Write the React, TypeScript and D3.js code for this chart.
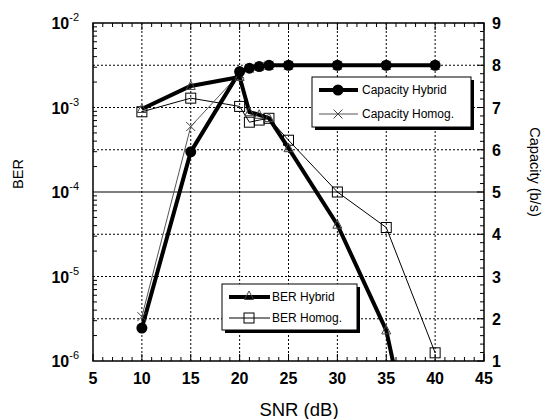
import * as d3 from "d3";

// SNR values (dB) where the curves were sampled
const snr = [10, 15, 20, 21, 22, 23, 25, 30, 35, 40];

// BER curves (left, log axis)
const berHybrid = [9.6e-4, 1.8e-3, 2.3e-3, 8.8e-4, 8.2e-4, 7.5e-4, 3.3e-4, 4.1e-5, 2.3e-6, 5e-9];
const berHomog = [8.9e-4, 1.29e-3, 1.03e-3, 6.7e-4, 7.1e-4, 7.45e-4, 4.1e-4, 1.0e-4, 3.8e-5, 1.25e-6];

// Capacity curves (right, linear axis)
const capHybrid = [1.78, 5.95, 7.85, 7.93, 7.97, 8.0, 8.0, 8.0, 8.0, 8.0];
const capHomog = [2.05, 6.55, 7.8, 7.93, 7.97, 8.0, 8.0, 8.0, 8.0, 8.0];

const xTicks = [5, 10, 15, 20, 25, 30, 35, 40, 45];
const berDecades = [-6, -5, -4, -3, -2];
const capTicks = [1, 2, 3, 4, 5, 6, 7, 8, 9];

const W = 545;
const H = 419;
const m = { left: 93, top: 23, right: 484, bottom: 361 };
const FONT = "'Liberation Sans', Arial, sans-serif";

export default function App() {
  const x = d3.scaleLinear().domain([5, 45]).range([m.left, m.right]);
  const yBer = d3.scaleLog().domain([1e-6, 1e-2]).range([m.bottom, m.top]);
  const yCap = d3.scaleLinear().domain([1, 9]).range([m.bottom, m.top]);

  const berLine = d3
    .line<[number, number]>()
    .x((d) => x(d[0]))
    .y((d) => yBer(d[1]));
  const capLine = d3
    .line<[number, number]>()
    .x((d) => x(d[0]))
    .y((d) => yCap(d[1]));

  const zip = (vals: number[]) => snr.map((s, i) => [s, vals[i]] as [number, number]);

  const inside = (v: number) => v >= 1e-6 && v <= 1e-2;

  // minor ticks
  const xMinor = d3.range(5, 45.01, 1);
  const capMinor = d3.range(1, 9.001, 0.2);
  const berMinor: number[] = [];
  berDecades.slice(0, -1).forEach((e) => {
    for (let k = 2; k <= 9; k++) berMinor.push(k * Math.pow(10, e));
  });

  const circle = (cx: number, cy: number, key: string) => (
    <circle key={key} cx={cx} cy={cy} r={5.5} fill="#000" />
  );
  const cross = (cx: number, cy: number, key: string) => (
    <path key={key} d={`M${cx - 4.5},${cy - 4.5}L${cx + 4.5},${cy + 4.5}M${cx - 4.5},${cy + 4.5}L${cx + 4.5},${cy - 4.5}`} stroke="#444" strokeWidth={1} />
  );
  const square = (cx: number, cy: number, key: string) => (
    <rect key={key} x={cx - 5} y={cy - 5} width={10} height={10} fill="none" stroke="#000" strokeWidth={1} />
  );
  const tri = (cx: number, cy: number, key: string) => (
    <path key={key} d={`M${cx},${cy - 5}L${cx + 4.5},${cy + 3.5}L${cx - 4.5},${cy + 3.5}Z`} fill="none" stroke="#444" strokeWidth={1} />
  );

  const legend1 = { x: 312, y: 77, w: 159, h: 50 };
  const legend2 = { x: 222, y: 284, w: 135, h: 46 };

  return (
    <svg width={W} height={H} style={{ position: "absolute", left: 0, top: 0, background: "#fff" }} fontFamily={FONT}>
      <rect width={W} height={H} fill="#fff" />
      <defs>
        <clipPath id="plot">
          <rect x={m.left} y={m.top} width={m.right - m.left} height={m.bottom - m.top} />
        </clipPath>
      </defs>

      {/* grid */}
      {xTicks.slice(1, -1).map((t) => (
        <line key={"gx" + t} x1={x(t)} x2={x(t)} y1={m.top} y2={m.bottom} stroke="#000" strokeDasharray="2,2" />
      ))}
      {capTicks.slice(1, -1).map((t) => (
        <line key={"gy" + t} x1={m.left} x2={m.right} y1={yCap(t)} y2={yCap(t)} stroke="#000" strokeDasharray={t === 5 ? undefined : "2,2"} strokeWidth={t === 5 ? 1.2 : 1} />
      ))}

      {/* ticks */}
      {xMinor.map((t) => {
        const len = t % 5 === 0 ? 7 : 4;
        return (
          <g key={"xt" + t}>
            <line x1={x(t)} x2={x(t)} y1={m.bottom} y2={m.bottom - len} stroke="#000" />
            <line x1={x(t)} x2={x(t)} y1={m.top} y2={m.top + len} stroke="#000" />
          </g>
        );
      })}
      {berMinor.map((v, i) => (
        <line key={"bt" + i} x1={m.left} x2={m.left + 4} y1={yBer(v)} y2={yBer(v)} stroke="#000" />
      ))}
      {capMinor.map((v, i) => {
        const major = Math.abs(v - Math.round(v)) < 1e-6;
        return <line key={"ct" + i} x1={m.right} x2={m.right - (major ? 7 : 4)} y1={yCap(v)} y2={yCap(v)} stroke="#000" />;
      })}

      {/* data */}
      <g clipPath="url(#plot)">
        <path d={berLine(zip(berHomog)) || ""} fill="none" stroke="#000" strokeWidth={1} />
        <path d={capLine(zip(capHomog)) || ""} fill="none" stroke="#555" strokeWidth={1} />
        <path d={berLine(zip(berHybrid)) || ""} fill="none" stroke="#000" strokeWidth={4} strokeLinejoin="round" />
        <path d={capLine(zip(capHybrid)) || ""} fill="none" stroke="#000" strokeWidth={4} strokeLinejoin="round" />
        {snr.map((s, i) => (inside(berHomog[i]) ? square(x(s), yBer(berHomog[i]), "sq" + i) : null))}
        {snr.map((s, i) => (inside(berHybrid[i]) ? tri(x(s), yBer(berHybrid[i]), "tr" + i) : null))}
        {snr.map((s, i) => cross(x(s), yCap(capHomog[i]), "cx" + i))}
        {snr.map((s, i) => circle(x(s), yCap(capHybrid[i]), "ci" + i))}
      </g>

      {/* frame */}
      <rect x={m.left} y={m.top} width={m.right - m.left} height={m.bottom - m.top} fill="none" stroke="#000" strokeWidth={1.5} />

      {/* tick labels */}
      {xTicks.map((t) => (
        <text key={"xl" + t} x={x(t)} y={m.bottom + 23} textAnchor="middle" fontSize={16} fontWeight="bold">
          {t}
        </text>
      ))}
      {berDecades.map((e) => (
        <text key={"yl" + e} x={79} y={yBer(Math.pow(10, e)) + 6} textAnchor="end" fontSize={16} fontWeight="bold">
          <tspan>10</tspan>
          <tspan dy={-8} fontSize={11} fontWeight="normal">{e}</tspan>
        </text>
      ))}
      {capTicks.map((t) => (
        <text key={"rl" + t} x={492} y={yCap(t) + 6} fontSize={16} fontWeight="bold">
          {t}
        </text>
      ))}

      {/* axis titles */}
      <text x={299} y={416} textAnchor="middle" fontSize={18.5}>SNR (dB)</text>
      <text transform="translate(23,174) rotate(-90)" textAnchor="middle" fontSize={14.5}>BER</text>
      <text transform="translate(530,172) rotate(90)" textAnchor="middle" fontSize={14.5}>Capacity (b/s)</text>

      {/* legend: capacity */}
      <rect x={legend1.x + 3} y={legend1.y + 3} width={legend1.w} height={legend1.h} fill="#000" />
      <rect x={legend1.x} y={legend1.y} width={legend1.w} height={legend1.h} fill="#fff" stroke="#000" />
      <line x1={legend1.x + 7} x2={legend1.x + 46} y1={legend1.y + 13} y2={legend1.y + 13} stroke="#000" strokeWidth={4} />
      {circle(legend1.x + 26, legend1.y + 13, "lc")}
      <text x={legend1.x + 50} y={legend1.y + 17} fontSize={12}>Capacity Hybrid</text>
      <line x1={legend1.x + 7} x2={legend1.x + 46} y1={legend1.y + 37} y2={legend1.y + 37} stroke="#555" strokeWidth={1} />
      {cross(legend1.x + 26, legend1.y + 37, "lx")}
      <text x={legend1.x + 50} y={legend1.y + 41} fontSize={12}>Capacity Homog.</text>

      {/* legend: BER */}
      <rect x={legend2.x + 3} y={legend2.y + 3} width={legend2.w} height={legend2.h} fill="#000" />
      <rect x={legend2.x} y={legend2.y} width={legend2.w} height={legend2.h} fill="#fff" stroke="#000" />
      <line x1={legend2.x + 7} x2={legend2.x + 48} y1={legend2.y + 13} y2={legend2.y + 13} stroke="#000" strokeWidth={4} />
      {tri(legend2.x + 27, legend2.y + 12, "lt")}
      <text x={legend2.x + 50} y={legend2.y + 17} fontSize={12}>BER Hybrid</text>
      <line x1={legend2.x + 7} x2={legend2.x + 48} y1={legend2.y + 34} y2={legend2.y + 34} stroke="#000" strokeWidth={1} />
      {square(legend2.x + 27, legend2.y + 34, "ls")}
      <text x={legend2.x + 50} y={legend2.y + 38} fontSize={12}>BER Homog.</text>
    </svg>
  );
}
